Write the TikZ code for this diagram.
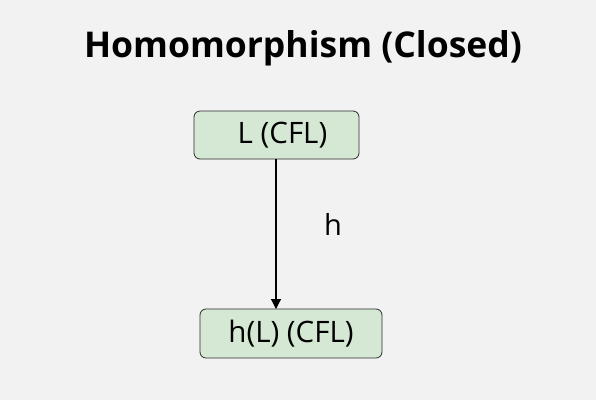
\documentclass[tikz,border=0pt]{standalone}
\usepackage{fontspec}
\setmainfont{Open Sans}
\usetikzlibrary{arrows.meta}
\definecolor{bg}{HTML}{F2F2F2}
\definecolor{boxfill}{HTML}{D5E8D4}
\definecolor{boxline}{HTML}{2B2B2B}
\tikzset{
  statebox/.style={draw=boxline, line width=0.8pt, fill=boxfill, rounded corners=6pt, inner sep=0pt, font=\fontsize{29.5}{34}\selectfont},
  conn/.style={draw=black, line width=1.1pt, -{Triangle[length=10pt,width=10pt]}},
}
\begin{document}
\begin{tikzpicture}[x=1pt,y=-1pt]
\fill[bg] (0,0) rectangle (596,400);
\useasboundingbox (0,0) rectangle (596,400);
\node[font=\bfseries\fontsize{35.5}{42}\selectfont] (title) at (303,48) {Homomorphism (Closed)};
\node[statebox, minimum width=165pt, minimum height=48pt] (L) at (276.5,135) {\hspace*{12pt}L (CFL)};
\node[statebox, minimum width=182pt, minimum height=49pt] (hL) at (291,333.5) {h(L) (CFL)};
\coordinate (hLtop) at (276,309);
\draw[conn] (L.south -| hLtop) -- (hLtop);
\node[font=\fontsize{29}{34}\selectfont] (lab) at (333,224) {h};
\end{tikzpicture}
\end{document}
